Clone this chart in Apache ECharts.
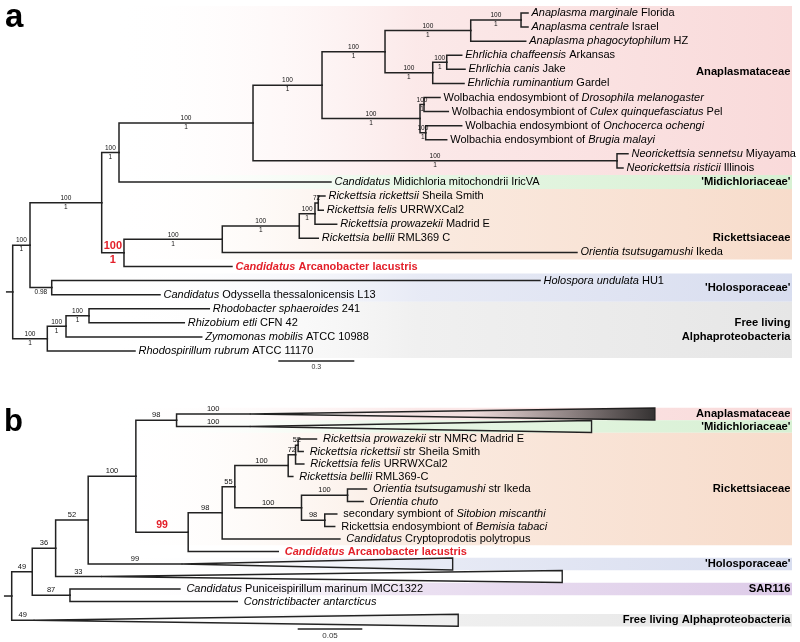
<!DOCTYPE html>
<html><head><meta charset="utf-8">
<script src="https://cdn.jsdelivr.net/npm/echarts@6/dist/echarts.min.js"></script>
<style>html,body{margin:0;padding:0;background:#fff}#c{width:800px;height:642px}</style>
</head><body><div id="c"></div>
<script>
// ================= PANEL a : data =================
const leafNamesA = [
  '*Anaplasma marginale* Florida', '*Anaplasma centrale* Israel', '*Anaplasma phagocytophilum* HZ',
  '*Ehrlichia chaffeensis* Arkansas', '*Ehrlichia canis* Jake', '*Ehrlichia ruminantium* Gardel',
  'Wolbachia endosymbiont of *Drosophila melanogaster*', 'Wolbachia endosymbiont of *Culex quinquefasciatus* Pel',
  'Wolbachia endosymbiont of *Onchocerca ochengi*', 'Wolbachia endosymbiont of *Brugia malayi*',
  '*Neorickettsia sennetsu* Miyayama', '*Neorickettsia risticii* Illinois',
  '*Candidatus* Midichloria mitochondrii IricVA',
  '*Rickettsia rickettsii* Sheila Smith', '*Rickettsia felis* URRWXCal2', '*Rickettsia prowazekii* Madrid E',
  '*Rickettsia bellii* RML369 C', '*Orientia tsutsugamushi* Ikeda',
  '*Candidatus* Arcanobacter lacustris',
  '*Holospora undulata* HU1', '*Candidatus* Odyssella thessalonicensis L13',
  '*Rhodobacter sphaeroides* 241', '*Rhizobium etli* CFN 42', '*Zymomonas mobilis* ATCC 10988',
  '*Rhodospirillum rubrum* ATCC 11170'
];
const leafParentA = ['N8','N8','N7','N10','N10','N9','N12','N12','N13','N13','N14','N14','N3',
  'N19','N19','N18','N17','N16','N15','N20','N20','N23','N23','N22','N21'];
const leafLengthA = [0.0276,0.0276,0.2171,0.0592,0.0722,0.1236,0.0632,0.0959,0.1421,0.0829,0.0434,0.0237,0.8368,
  0.0264,0.0197,0.0857,0.0750,1.4001,0.4263,1.9275,0.4275,0.4749,0.3762,0.5357,0.3462];
const nodeIdsA = ['N1','N2','N3','N4','N5','N6','N7','N8','N9','N10','N11','N12','N13','N14','N15','N16','N17','N18','N19','N20','N21','N22','N23'];
const nodeParentA = ['root','N1','N2','N3','N4','N5','N6','N7','N6','N9','N5','N11','N11','N4','N2','N15','N16','N17','N18','N1','root','N21','N22'];
const nodeLengthA = [0.0683,0.2830,0.0683,0.5290,0.2724,0.2487,0.3383,0.1986,0.1883,0.0553,0.3868,0.0158,0.0225,1.4368,0.0880,0.3880,0.3039,0.0620,0.0130,0.0857,0.1366,0.0738,0.0908];
const bootstrapA = ['100','100','100','100','100','100','100','100','100','100','100','100','100','100','100','100','100','100','72','','100','100','100'];
const posteriorA = ['1','1','1','1','1','1','1','1','1','1','1','1','1','1','1','1','1','1','','0.98','1','1','1'];
const cladeNamesA = ['Anaplasmataceae', "'Midichloriaceae'", 'Rickettsiaceae', "'Holosporaceae'", 'Free living\nAlphaproteobacteria'];
const cladeFirstLeafA = [0, 12, 13, 19, 21];
const cladeLastLeafA = [11, 12, 17, 20, 24];
const scaleBarA = 0.3;

// ================= PANEL b : data =================
const leafNamesB = [
  '', '',
  '*Rickettsia prowazekii* str NMRC Madrid E', '*Rickettsia rickettsii* str Sheila Smith',
  '*Rickettsia felis* URRWXCal2', '*Rickettsia bellii* RML369-C',
  '*Orientia tsutsugamushi* str Ikeda', '*Orientia chuto*',
  'secondary symbiont of *Sitobion miscanthi*', 'Rickettsia endosymbiont of *Bemisia tabaci*',
  '*Candidatus* Cryptoprodotis polytropus', '*Candidatus* Arcanobacter lacustris',
  '', '',
  '*Candidatus* Puniceispirillum marinum IMCC1322', '*Constrictibacter antarcticus*',
  ''
];
const leafParentB = ['B5','B5','B11','B11','B10','B9','B13','B13','B14','B14','B7','B6','B3','B2','B15','B15','root'];
const leafLengthB = [0.0567,0.0567,0.0142,0.0039,0.0064,0.0036,0.0147,0.0121,0.0093,0.0077,0.0911,0.0697,0.0723,0.0351,0.0851,0.1295,0.0170];
const collapsedDepthB = [0.3135,0.2645,0,0,0,0,0,0,0,0,0,0,0.2098,0.3570,0,0,0.3286];
const leafSupportB = ['100','100','','','','','','','','','','','99','33','','','49'];
const leafRowSpanB = [1,1,1,1,1,1,1,1,1,1,1,1,1,1,1,1,2];
const nodeIdsB = ['B1','B2','B3','B4','B5','B6','B7','B8','B9','B10','B11','B12','B13','B14','B15'];
const nodeParentB = ['root','B1','B2','B3','B4','B4','B6','B7','B8','B9','B10','B8','B12','B12','B1'];
const nodeLengthB = [0.0159,0.0181,0.0252,0.0369,0.0315,0.0405,0.0263,0.0098,0.0413,0.0057,0.0020,0.0516,0.0356,0.0180,0.0292];
const nodeSupportB = ['49','36','52','100','98','99','98','55','100','72','52','100','100','98','87'];
const cladeNamesB = ['Anaplasmataceae', "'Midichloriaceae'", 'Rickettsiaceae', "'Holosporaceae'", 'SAR116', 'Free living Alphaproteobacteria'];
const cladeFirstLeafB = [0, 1, 2, 12, 14, 16];
const cladeLastLeafB = [0, 1, 10, 12, 14, 16];
const scaleBarB = 0.05;

const focusTaxon = 'Candidatus Arcanobacter lacustris';

// ================= layout / style =================
const FONT = "'Liberation Sans', Arial, Helvetica, sans-serif";
const RED = '#e3202a';
const INK = '#000000';
const LINE = '#222222';
const cladeColors = {
  'Anaplasmataceae': '#f9dada',
  "'Midichloriaceae'": '#d7f0d3',
  'Rickettsiaceae': '#f7dccb',
  "'Holosporaceae'": '#d8ddef',
  'SAR116': '#ddcbe8',
  'Free living\nAlphaproteobacteria': '#e6e6e6',
  'Free living Alphaproteobacteria': '#e6e6e6'
};
// shaded fill for the first collapsed clade of panel b (dark wedge towards its tip end)
const triShadeB = { 0: true };

const L_A = { left: 12.7, top: 5.96, rowPx: 14.083, pxPerUnit: 253.33, stubPx: 6, gap: 3, leafFont: 11,
  supFont: 6.5, bandStartPx: 110, bandEndPx: 792, triHalf: 0.48,
  cladeLabelRow: [4.2, 12, 16, 19.5, 22.5], scaleStartPx: 278.3, scaleRow: 24.71, redSupFont: 11 };
const L_B = { left: 11.7, top: 407.75, rowPx: 12.5, pxPerUnit: 1292, stubPx: 7, gap: 6, leafFont: 11,
  supFont: 7.5, bandStartPx: 110, bandEndPx: 792, triHalf: 0.48,
  cladeLabelRow: null, scaleStartPx: 297.7, scaleRow: 17.2, redSupFont: 10.5, triShade: triShadeB };

function richText(name, hi) {
  let s = '';
  name.split('*').forEach((p, k) => {
    if (!p) return;
    s += '{' + (k % 2 ? 'i' : 'n') + (hi ? 'r' : '') + '|' + p + '}';
  });
  return s;
}
function richStyles(fs) {
  return {
    i: { fontStyle: 'italic', fontSize: fs, fontFamily: FONT, color: INK, opacity: 1 },
    n: { fontSize: fs, fontFamily: FONT, color: INK, opacity: 1 },
    ir: { fontStyle: 'italic', fontWeight: 'bold', fontSize: fs, fontFamily: FONT, color: RED, opacity: 1 },
    nr: { fontWeight: 'bold', fontSize: fs, fontFamily: FONT, color: RED, opacity: 1 }
  };
}

function buildPanel(d, L, g) {
  const spans = d.rowSpan || d.leafNames.map(() => 1);
  const rows = []; let acc = 0;
  spans.forEach(s => { rows.push(acc + (s - 1) / 2); acc += s; });
  const nRows = acc;
  const width = 800 - L.left;
  const grid = { left: L.left, top: L.top, width: width, height: nRows * L.rowPx };
  const xMax = width / L.pxPerUnit;
  const xAxis = { gridIndex: g, type: 'value', min: 0, max: xMax, show: false };
  const yAxis = { gridIndex: g, type: 'value', min: -0.5, max: nRows - 0.5, inverse: true, show: false };
  const pxToVal = px => (px - L.left) / L.pxPerUnit;

  const nIdx = {}; d.nodeIds.forEach((id, i) => nIdx[id] = i);
  const depth = { root: 0 };
  const getDepth = id => {
    if (depth[id] !== undefined) return depth[id];
    const i = nIdx[id];
    return depth[id] = getDepth(d.nodeParent[i]) + d.nodeLength[i];
  };
  const kids = {};
  d.leafParent.forEach((p, i) => (kids[p] = kids[p] || []).push({ leaf: i }));
  d.nodeParent.forEach((p, i) => (kids[p] = kids[p] || []).push({ node: d.nodeIds[i] }));
  const yMemo = {};
  const getY = id => {
    if (yMemo[id] !== undefined) return yMemo[id];
    const ys = kids[id].map(k => k.leaf !== undefined ? rows[k.leaf] : getY(k.node));
    return yMemo[id] = (Math.min(...ys) + Math.max(...ys)) / 2;
  };

  const segs = [];
  const rootY = getY('root');
  segs.push([-L.stubPx / L.pxPerUnit, rootY, 0, rootY]);
  d.nodeIds.forEach((id, i) => {
    const p = d.nodeParent[i];
    segs.push([getDepth(p), getY(p), getDepth(id), getY(id)]);
  });
  const tris = [], triShadeFlags = [];
  const leafPts = [], leafTexts = [];
  d.leafParent.forEach((p, i) => {
    const x1 = getDepth(p) + d.leafLength[i];
    segs.push([getDepth(p), getY(p), x1, rows[i]]);
    const cd = d.collapsed ? d.collapsed[i] : 0;
    if (cd > 0) { tris.push([x1, rows[i], x1 + cd, rows[i]]); triShadeFlags.push(!!(L.triShade && L.triShade[i])); }
    if (d.leafNames[i]) {
      leafPts.push([x1, rows[i]]);
      const plain = d.leafNames[i].replace(/\*/g, '');
      leafTexts.push(richText(d.leafNames[i], plain === focusTaxon));
    }
  });

  const topPts = [], botPts = [];
  d.nodeIds.forEach((id, i) => {
    const p = d.nodeParent[i];
    const mx = (getDepth(p) + getDepth(id)) / 2, y = getY(id);
    const focus = kids[id].some(k => k.leaf !== undefined && d.leafNames[k.leaf].replace(/\*/g, '') === focusTaxon);
    const lab = focus ? { fontSize: L.redSupFont, fontWeight: 'bold', color: RED, distance: 1 } : undefined;
    if (d.top[i]) topPts.push({ value: [mx, y], t: d.top[i], label: lab });
    if (d.bottom && d.bottom[i]) botPts.push({ value: [mx, y], t: d.bottom[i], label: lab });
  });
  if (d.leafSupport) d.leafParent.forEach((p, i) => {
    if (!d.leafSupport[i]) return;
    const x1 = getDepth(p) + d.leafLength[i];
    topPts.push({ value: [(getDepth(p) + x1) / 2, rows[i]], t: d.leafSupport[i] });
  });

  const bands = [], bandColors = [], cladePts = [];
  d.cladeNames.forEach((c, k) => {
    const y0 = rows[d.cladeFirst[k]] - 0.5, y1 = rows[d.cladeLast[k]] + 0.5;
    bands.push([pxToVal(L.bandStartPx), y0, pxToVal(L.bandEndPx), y1]);
    bandColors.push(cladeColors[c]);
    const ly = L.cladeLabelRow ? L.cladeLabelRow[k] : (rows[d.cladeFirst[k]] + rows[d.cladeLast[k]]) / 2;
    cladePts.push({ value: [xMax, ly], t: c });
  });

  const base = { xAxisIndex: g, yAxisIndex: g, silent: true, animation: false };
  const hidden = { color: 'rgba(0,0,0,0)', opacity: 1 };
  const series = [
    Object.assign({}, base, {
      type: 'custom', z: 1, data: bands, encode: { x: [0, 2], y: [1, 3] },
      renderItem: (params, api) => {
        const a = api.coord([api.value(0), api.value(1)]);
        const b = api.coord([api.value(2), api.value(3)]);
        const col = bandColors[params.dataIndex];
        return { type: 'rect', shape: { x: a[0], y: a[1], width: b[0] - a[0], height: b[1] - a[1] },
          style: { fill: new echarts.graphic.LinearGradient(0, 0, 1, 0, [
            { offset: 0, color: 'rgba(255,255,255,0)' },
            { offset: 0.45, color: echarts.color.modifyAlpha(col, 0.6) },
            { offset: 1, color: col }]) } };
      }
    }),
    Object.assign({}, base, {
      type: 'custom', z: 3, data: segs, encode: { x: [0, 2], y: [1, 3] },
      renderItem: (params, api) => {
        const a = api.coord([api.value(0), api.value(1)]);
        const b = api.coord([api.value(2), api.value(3)]);
        return { type: 'polyline', shape: { points: [a, [a[0], b[1]], b] },
          style: { stroke: LINE, lineWidth: 1.5, fill: null, lineJoin: 'miter', lineCap: 'square' } };
      }
    }),
    Object.assign({}, base, {
      type: 'custom', z: 3, data: tris, encode: { x: [0, 2], y: [1, 3] },
      renderItem: (params, api) => {
        const a = api.coord([api.value(0), api.value(1)]);
        const b = api.coord([api.value(2), api.value(3) - L.triHalf]);
        const c = api.coord([api.value(2), api.value(3) + L.triHalf]);
        const fill = triShadeFlags[params.dataIndex]
          ? new echarts.graphic.LinearGradient(0, 0, 1, 0, [
              { offset: 0, color: 'rgba(40,40,40,0)' }, { offset: 0.55, color: 'rgba(40,40,40,0.05)' },
              { offset: 1, color: 'rgba(30,30,30,0.9)' }])
          : 'rgba(255,255,255,0)';
        return { type: 'polygon', shape: { points: [a, b, c] },
          style: { stroke: LINE, lineWidth: 1.4, fill: fill, lineJoin: 'miter' } };
      }
    }),
    Object.assign({}, base, {
      type: 'scatter', z: 4, symbolSize: 1, itemStyle: hidden, data: leafPts,
      label: { show: true, position: 'right', distance: L.gap, formatter: p => leafTexts[p.dataIndex],
        rich: richStyles(L.leafFont), opacity: 1, color: INK }
    }),
    Object.assign({}, base, {
      type: 'scatter', z: 4, symbolSize: 1, itemStyle: hidden, data: topPts,
      label: { show: true, position: 'top', distance: 0.5, formatter: p => p.data.t, opacity: 1,
        fontSize: L.supFont, fontFamily: FONT, color: '#111' }
    }),
    Object.assign({}, base, {
      type: 'scatter', z: 4, symbolSize: 1, itemStyle: hidden, data: botPts,
      label: { show: true, position: 'bottom', distance: 0.5, formatter: p => p.data.t, opacity: 1,
        fontSize: L.supFont, fontFamily: FONT, color: '#111' }
    }),
    Object.assign({}, base, {
      type: 'scatter', z: 4, symbolSize: 1, itemStyle: hidden, data: cladePts,
      label: { show: true, position: 'left', distance: 9, formatter: p => p.data.t, align: 'right', opacity: 1,
        fontSize: 11.2, fontWeight: 'bold', fontFamily: FONT, color: '#000', lineHeight: 14.6 }
    }),
    Object.assign({}, base, {
      type: 'custom', z: 3, data: [[pxToVal(L.scaleStartPx), L.scaleRow, pxToVal(L.scaleStartPx) + d.scale, L.scaleRow]],
      encode: { x: [0, 2], y: [1, 3] },
      renderItem: (params, api) => {
        const a = api.coord([api.value(0), api.value(1)]);
        const b = api.coord([api.value(2), api.value(3)]);
        return { type: 'group', children: [
          { type: 'line', shape: { x1: a[0], y1: a[1], x2: b[0], y2: b[1] }, style: { stroke: LINE, lineWidth: 1.3 } },
          { type: 'text', x: (a[0] + b[0]) / 2, y: a[1] + 2.5, style: { text: String(d.scale), fill: '#333',
            font: (L.supFont + 0.5) + 'px ' + FONT, align: 'center', verticalAlign: 'top' } }
        ] };
      }
    })
  ];
  return { grid, xAxis, yAxis, series };
}

const PA = buildPanel({ leafNames: leafNamesA, leafParent: leafParentA, leafLength: leafLengthA,
  nodeIds: nodeIdsA, nodeParent: nodeParentA, nodeLength: nodeLengthA, top: bootstrapA, bottom: posteriorA,
  cladeNames: cladeNamesA, cladeFirst: cladeFirstLeafA, cladeLast: cladeLastLeafA, scale: scaleBarA }, L_A, 0);
const PB = buildPanel({ leafNames: leafNamesB, leafParent: leafParentB, leafLength: leafLengthB,
  collapsed: collapsedDepthB, leafSupport: leafSupportB, rowSpan: leafRowSpanB,
  nodeIds: nodeIdsB, nodeParent: nodeParentB, nodeLength: nodeLengthB, top: nodeSupportB,
  cladeNames: cladeNamesB, cladeFirst: cladeFirstLeafB, cladeLast: cladeLastLeafB, scale: scaleBarB }, L_B, 1);

const chart = echarts.init(document.getElementById('c'), null, { renderer: 'canvas' });
chart.setOption({
  backgroundColor: '#ffffff',
  animation: false,
  grid: [PA.grid, PB.grid],
  xAxis: [PA.xAxis, PB.xAxis],
  yAxis: [PA.yAxis, PB.yAxis],
  graphic: [
    { type: 'text', left: 5, top: 1, z: 10, style: { text: 'a', font: 'bold 33px ' + FONT, fill: '#000' } },
    { type: 'text', left: 4, top: 407, z: 10, style: { text: 'b', font: 'bold 31px ' + FONT, fill: '#000' } }
  ],
  series: PA.series.concat(PB.series)
});
</script></body></html>
